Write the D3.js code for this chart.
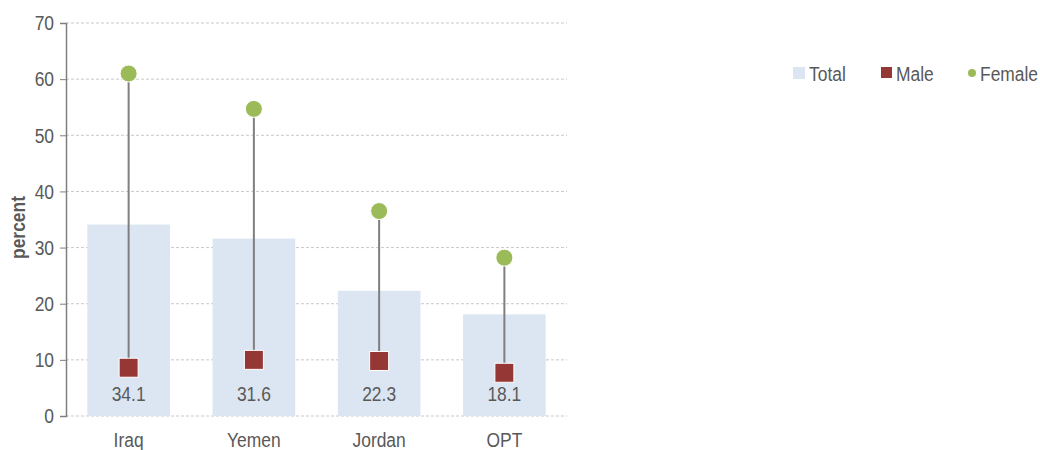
<!DOCTYPE html>
<meta charset="utf-8">
<script src="https://d3js.org/d3.v7.min.js"></script>
<style>
  body { margin: 0; background: #fff; }
  text { font-family: "Liberation Sans", Arial, sans-serif; fill: #595959; }
  /* narrow look: squeeze glyphs horizontally */
  .cond { transform-box: fill-box; transform: scaleX(0.83); }
  .cond-mid { transform-origin: center; }
  .cond-end { transform-origin: right; }
  .cond-start { transform-origin: left; }
</style>
<div id="chart"></div>
<script>

// data
var countries = ["Iraq", "Yemen", "Jordan", "OPT"];
var total = [34.1, 31.6, 22.3, 18.1];
var male = [8.6, 10.0, 9.8, 7.7];
var female = [61.0, 54.7, 36.5, 28.2];
var yTicks = [0, 10, 20, 30, 40, 50, 60, 70];

var W = 1040, H = 450;
var margin = {top: 23, right: 473, bottom: 34, left: 66},
    width = W - margin.left - margin.right,
    height = H - margin.top - margin.bottom;

var svg = d3.select("#chart").append("svg")
    .attr("width", W)
    .attr("height", H);

var g = svg.append("g")
    .attr("transform", "translate(" + margin.left + "," + margin.top + ")");

var x = d3.scaleBand()
  .domain(countries)
  .range([0, width])
  .paddingInner(0.34)
  .paddingOuter(0.17);

var y = d3.scaleLinear()
  .domain([0, 70])
  .range([height, 0]);

// gridlines
g.selectAll(".grid")
  .data(yTicks)
  .enter().append("line")
    .attr("x1", 0)
    .attr("x2", width)
    .attr("y1", function(d) { return y(d); })
    .attr("y2", function(d) { return y(d); })
    .attr("stroke", "#c9c9c9")
    .attr("stroke-width", 1)
    .attr("stroke-dasharray", "3,2");

// bars (Total)
g.selectAll(".bar")
  .data(countries)
  .enter().append("rect")
    .attr("x", function(d) { return x(d); })
    .attr("width", x.bandwidth())
    .attr("y", function(d, i) { return y(total[i]); })
    .attr("height", function(d, i) { return height - y(total[i]); })
    .attr("fill", "#dce6f2");

// total labels
g.selectAll(".lbl")
  .data(countries)
  .enter().append("text")
    .attr("class", "cond cond-mid")
    .attr("x", function(d) { return x(d) + x.bandwidth() / 2; })
    .attr("y", height - 15)
    .attr("text-anchor", "middle")
    .style("font-size", "21px")
    .text(function(d, i) { return total[i].toFixed(1); });

// connecting lines
g.selectAll(".stem")
  .data(countries)
  .enter().append("line")
    .attr("x1", function(d) { return x(d) + x.bandwidth() / 2; })
    .attr("x2", function(d) { return x(d) + x.bandwidth() / 2; })
    .attr("y1", function(d, i) { return y(female[i]); })
    .attr("y2", function(d, i) { return y(male[i]); })
    .attr("stroke", "#7f7f7f")
    .attr("stroke-width", 2);

// male squares
var sq = 19;
g.selectAll(".male")
  .data(countries)
  .enter().append("rect")
    .attr("x", function(d) { return x(d) + x.bandwidth() / 2 - sq / 2; })
    .attr("y", function(d, i) { return y(male[i]) - sq / 2; })
    .attr("width", sq)
    .attr("height", sq)
    .attr("fill", "#953735")
    .attr("stroke", "#fff")
    .attr("stroke-width", 1);

// female circles
g.selectAll(".female")
  .data(countries)
  .enter().append("circle")
    .attr("cx", function(d) { return x(d) + x.bandwidth() / 2; })
    .attr("cy", function(d, i) { return y(female[i]); })
    .attr("r", 8.5)
    .attr("fill", "#9bbb59")
    .attr("stroke", "#fff")
    .attr("stroke-width", 1);

// y axis
var yAxis = g.append("g")
  .call(d3.axisLeft(y).tickValues(yTicks).tickSize(6).tickPadding(6));
yAxis.select(".domain").attr("stroke", "#7f7f7f").attr("stroke-width", 1.5);
yAxis.selectAll(".tick line").attr("stroke", "#7f7f7f");
yAxis.selectAll("text").attr("class", "cond cond-end")
  .style("font-size", "21px").attr("fill", "#595959")
  .style("font-family", "'Liberation Sans', Arial, sans-serif");

// x labels
var xAxis = g.append("g")
  .attr("transform", "translate(0," + height + ")")
  .call(d3.axisBottom(x).tickSize(0).tickPadding(16));
xAxis.select(".domain").remove();
xAxis.selectAll("text").attr("class", "cond cond-mid")
  .style("font-size", "21px").attr("fill", "#595959")
  .style("font-family", "'Liberation Sans', Arial, sans-serif");

// y title
svg.append("text")
  .attr("transform", "translate(25," + (margin.top + height / 2 + 8) + ") rotate(-90) scale(0.83,1)")
  .attr("text-anchor", "middle")
  .style("font-size", "21px")
  .style("font-weight", "bold")
  .attr("fill", "#404040")
  .text("percent");

// legend
var legend = svg.append("g");
legend.append("rect").attr("x", 793).attr("y", 67).attr("width", 12).attr("height", 12).attr("fill", "#dce6f2");
legend.append("text").attr("class", "cond cond-start").attr("x", 809).attr("y", 81).style("font-size", "21px").text("Total");
legend.append("rect").attr("x", 881).attr("y", 67).attr("width", 11).attr("height", 11).attr("fill", "#953735");
legend.append("text").attr("class", "cond cond-start").attr("x", 896).attr("y", 81).style("font-size", "21px").text("Male");
legend.append("circle").attr("cx", 972).attr("cy", 73).attr("r", 4).attr("fill", "#9bbb59");
legend.append("text").attr("class", "cond cond-start").attr("x", 980).attr("y", 81).style("font-size", "21px").text("Female");

</script>
